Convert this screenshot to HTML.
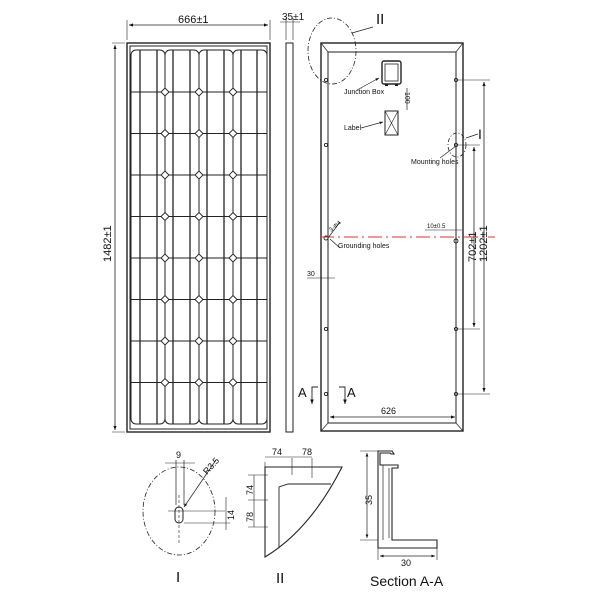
<!DOCTYPE html>
<html><head><meta charset="utf-8"><style>body{margin:0;background:#fff}svg{display:block}text{font-family:"Liberation Sans",sans-serif;fill:#111}</style></head><body>
<svg width="600" height="600" viewBox="0 0 600 600" xmlns="http://www.w3.org/2000/svg">
<defs><marker id="a" markerWidth="6" markerHeight="6" refX="5" refY="3" orient="auto"><path d="M0,1 L5,3 L0,5z" fill="#111"/></marker>
<marker id="b" markerWidth="6" markerHeight="6" refX="1" refY="3" orient="auto"><path d="M6,1 L1,3 L6,5z" fill="#111"/></marker></defs>
<g fill="none" stroke="#222" stroke-width="1">
<rect x="127" y="43" width="143" height="389" stroke-width="1.4"/>
<rect x="130" y="46" width="137" height="383"/>
<g stroke="#222" stroke-width="1">
<rect x="131" y="50" width="34" height="374" rx="5"/>
<rect x="165" y="50" width="34" height="374" rx="5"/>
<rect x="199" y="50" width="34" height="374" rx="5"/>
<rect x="233" y="50" width="34" height="374" rx="5"/>
<path d="M131 92H267M131 133.5H267M131 175H267M131 216.5H267M131 258H267M131 299.5H267M131 341H267M131 382.5H267"/>
<path d="M140 50V424M157 50V424M173 50V424M190 50V424M207 50V424M224 50V424M241 50V424M257 50V424" stroke-width="1.3"/>
</g>
<g fill="#fff" stroke="#222" stroke-width="0.9">
<path id="d" d="M165 88l4 4l-4 4l-4-4z"/>
<use href="#d" x="34"/><use href="#d" x="68"/>
<use href="#d" y="41.5"/><use href="#d" x="34" y="41.5"/><use href="#d" x="68" y="41.5"/>
<use href="#d" y="83"/><use href="#d" x="34" y="83"/><use href="#d" x="68" y="83"/>
<use href="#d" y="124.5"/><use href="#d" x="34" y="124.5"/><use href="#d" x="68" y="124.5"/>
<use href="#d" y="166"/><use href="#d" x="34" y="166"/><use href="#d" x="68" y="166"/>
<use href="#d" y="207.5"/><use href="#d" x="34" y="207.5"/><use href="#d" x="68" y="207.5"/>
<use href="#d" y="249"/><use href="#d" x="34" y="249"/><use href="#d" x="68" y="249"/>
<use href="#d" y="290.5"/><use href="#d" x="34" y="290.5"/><use href="#d" x="68" y="290.5"/>
</g>
<path d="M127 40V20M270 40V20" stroke-width="0.6"/>
<path d="M129 25H268" marker-start="url(#b)" marker-end="url(#a)" stroke-width="0.8"/>
<path d="M112 43H125M112 432H125" stroke-width="0.6"/>
<path d="M115 45V430" marker-start="url(#b)" marker-end="url(#a)" stroke-width="0.8"/>
<rect x="286" y="43" width="7" height="389"/>
<path d="M286 40V18M293 40V18M280 22H300" stroke-width="0.6"/>
<rect x="321" y="43" width="142" height="388" stroke-width="1.4"/>
<rect x="328" y="52" width="128" height="371"/>
<path d="M321 43L328 52M463 43L456 52M321 431L328 423M463 431L456 423" stroke-width="0.7"/>
<g stroke-width="0.9">
<circle cx="326" cy="80" r="1.6"/><circle cx="326" cy="145" r="1.6"/><circle cx="326" cy="238" r="2"/><circle cx="326" cy="329" r="1.6"/><circle cx="326" cy="394" r="1.6"/>
<circle cx="456" cy="80" r="1.6"/><circle cx="456" cy="145" r="1.6"/><circle cx="456" cy="241" r="2"/><circle cx="456" cy="329" r="1.6"/><circle cx="456" cy="394" r="1.6"/>
</g>
<path d="M320 237H495" stroke="#d33" stroke-dasharray="14 4 2 4" stroke-width="0.9"/>
<path d="M458 80H490M458 145H480M458 329H480M458 394H490" stroke-width="0.6"/>
<path d="M474 147V327" marker-start="url(#b)" marker-end="url(#a)" stroke-width="0.8"/>
<path d="M484 82V392" marker-start="url(#b)" marker-end="url(#a)" stroke-width="0.8"/>
<path d="M330 417H455" marker-start="url(#b)" marker-end="url(#a)" stroke-width="0.8"/>
<path d="M307 278H335" stroke-width="0.6"/>
<path d="M425 230H462" stroke-width="0.6"/>
<path d="M340 222L328 238M340 248L330 239" stroke-width="0.7"/>
<path d="M318 387H312V404" marker-end="url(#a)" stroke-width="0.9"/>
<path d="M339 387H345V404" marker-end="url(#a)" stroke-width="0.9"/>
<rect x="382" y="61" width="19" height="23" rx="2" stroke-width="1.4"/>
<rect x="385" y="64" width="13" height="17" stroke-width="0.8"/>
<path d="M385 85h3M395 85h3" stroke-width="2"/>
<path d="M357 90L379 78" marker-end="url(#a)" stroke-width="0.7"/>
<path d="M407 88V110" stroke-width="0.7"/>
<rect x="385" y="111" width="13" height="24"/>
<path d="M385 111L398 135M398 111L385 135" stroke-width="0.6"/>
<path d="M361 128L383 122" marker-end="url(#a)" stroke-width="0.7"/>
<ellipse cx="332" cy="51" rx="24" ry="33" stroke-dasharray="5 2 1 2" stroke-width="0.8"/>
<path d="M352 33L373 27" stroke-width="0.7"/>
<ellipse cx="457" cy="145" rx="9" ry="12" stroke-dasharray="4 2 1 2" stroke-width="0.8"/>
<path d="M466 138L478 134" stroke-width="0.7"/>
<path d="M440 158L456 146" stroke-width="0.7"/>
<ellipse cx="179" cy="511" rx="36" ry="44" stroke-dasharray="5 2 1 2" stroke-width="0.8"/>
<rect x="175" y="507" width="8" height="16" rx="4"/>
<path d="M176 460V505M184 460V505" stroke-width="0.7"/>
<path d="M179 495V545" stroke-dasharray="3 2" stroke-width="0.6"/>
<path d="M168 511H225M184 523H230M226 497V530" stroke-width="0.6"/>
<path d="M165 463H195" stroke-width="0.6"/>
<path d="M216 460L184 507" marker-end="url(#a)" stroke-width="0.7"/>
<path d="M265 467H342Q310 530 265 557Z" stroke-width="1.1"/>
<path d="M279 548V487L288 484H331" stroke-width="0.9"/>
<path d="M254 475V527M265 457H312M265 462V470M292 458V475M312 458V478M248 475H268M248 500H268M248 527H268" stroke-width="0.6"/>
<path d="M378 451H392L394 454H391L390 453H380V465H398V468H392V540H437V548H378Z" stroke-width="1.1"/>
<path d="M383 465V540M389 468V538" stroke-width="0.7"/>
<path d="M360 451H378M360 540H378M378 548V560M437 548V560" stroke-width="0.6"/>
<path d="M367 453V538" marker-start="url(#b)" marker-end="url(#a)" stroke-width="0.7"/>
<path d="M380 556H435" marker-start="url(#b)" marker-end="url(#a)" stroke-width="0.7"/>
</g>
<g font-size="10">
<text x="178" y="23" font-size="11">666±1</text>
<text x="282" y="20" font-size="10">35±1</text>
<text transform="translate(111,262) rotate(-90)" font-size="11">1482±1</text>
<text x="376" y="24" font-size="15" font-family="Liberation Serif">II</text>
<text x="344" y="94" font-size="7">Junction Box</text>
<text transform="translate(405,92) rotate(90)" font-size="7">100</text>
<text x="344" y="130" font-size="7">Label</text>
<text x="478" y="139" font-size="14" font-family="Liberation Serif">I</text>
<text x="411" y="164" font-size="7">Mounting holes</text>
<text transform="translate(331,232) rotate(-40)" font-size="6">3-Φ4</text>
<text x="338" y="248" font-size="7">Grounding holes</text>
<text x="427" y="228" font-size="6">10±0.5</text>
<text transform="translate(476,262) rotate(-90)" font-size="11">702±1</text>
<text transform="translate(487,262) rotate(-90)" font-size="11">1202±1</text>
<text x="307" y="276" font-size="7">30</text>
<text x="298" y="397" font-size="13" font-family="Liberation Serif">A</text>
<text x="347" y="397" font-size="13" font-family="Liberation Serif">A</text>
<text x="381" y="414" font-size="9">626</text>
<text x="176" y="458" font-size="9">9</text>
<text transform="translate(207,475) rotate(-48)" font-size="9">R3.5</text>
<text transform="translate(234,520) rotate(-90)" font-size="9">14</text>
<text x="176" y="582" font-size="15" font-family="Liberation Serif">I</text>
<text x="272" y="455" font-size="9">74</text>
<text x="302" y="455" font-size="9">78</text>
<text transform="translate(253,495) rotate(-90)" font-size="9">74</text>
<text transform="translate(253,522) rotate(-90)" font-size="9">78</text>
<text x="276" y="583" font-size="15" font-family="Liberation Serif">II</text>
<text transform="translate(372,505) rotate(-90)" font-size="9">35</text>
<text x="401" y="566" font-size="9">30</text>
<text x="370" y="586" font-size="14">Section A-A</text>
</g>
</svg>
</body></html>
